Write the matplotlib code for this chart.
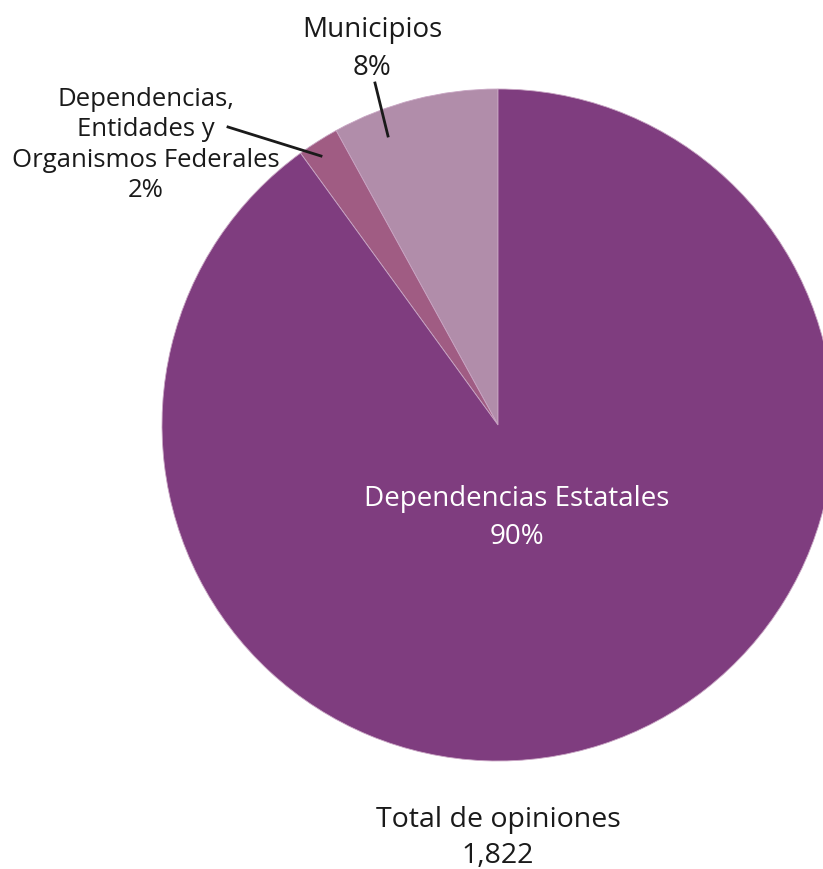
import matplotlib.pyplot as plt

# data
labels = ['Municipios', 'Dependencias,\nEntidades y\nOrganismos Federales', 'Dependencias Estatales']
shares = [8, 2, 90]
colors = ['#B18DAA', '#A05C83', '#7F3D7F']
total = '1,822'

plt.rcParams['font.family'] = ['Open Sans', 'DejaVu Sans']

W, H = 823, 869
fig = plt.figure(figsize=(W / 100, H / 100), dpi=100)
ax = fig.add_axes([0, 0, 1, 1])

# pie drawn in pixel coords (y measured from bottom)
cx, cy, r = 498, H - 425, 336
ax.pie(shares, colors=colors, startangle=90, counterclock=True,
       center=(cx, cy), radius=r, frame=True,
       wedgeprops=dict(linewidth=0.6, edgecolor='#C9A6C4'))
ax.set_xlim(0, W)
ax.set_ylim(0, H)
ax.set_aspect('equal')
ax.axis('off')

# labels
ax.text(372, H - 49, labels[0] + '\n' + str(shares[0]) + '%', ha='center', va='center',
        fontsize=20, color='#1a1a1a', linespacing=1.5)
ax.text(146, H - 145, labels[1] + '\n' + str(shares[1]) + '%', ha='center', va='center',
        fontsize=18.5, color='#1a1a1a', linespacing=1.29)
ax.text(517, H - 518, labels[2] + '\n' + str(shares[2]) + '%', ha='center', va='center',
        fontsize=20, color='white', linespacing=1.45)
ax.text(498, H - 838, 'Total de opiniones\n' + total, ha='center', va='center',
        fontsize=20.5, color='#1a1a1a', linespacing=1.36)

# leader lines
ax.plot([375, 388], [H - 83, H - 136], color='#1a1a1a', lw=2)
ax.plot([228, 321], [H - 127, H - 156], color='#1a1a1a', lw=2)

fig.savefig('out.png', dpi=100)
